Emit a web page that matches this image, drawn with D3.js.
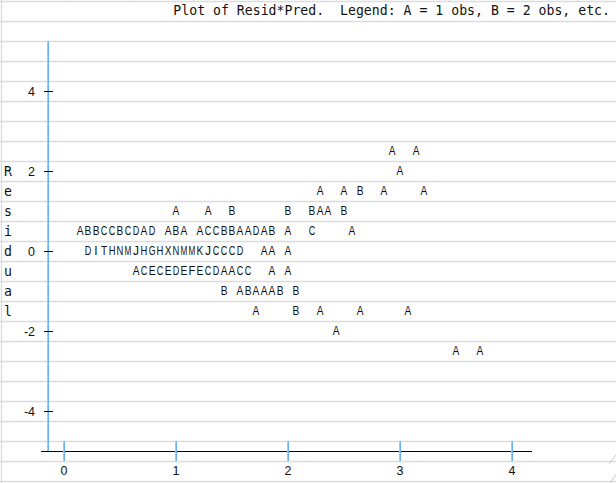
<!DOCTYPE html>
<html><head><meta charset="utf-8">
<script src="https://cdn.jsdelivr.net/npm/d3@7"></script>
<style>html,body{margin:0;padding:0;background:#fff;overflow:hidden}</style>
</head><body>
<svg id="c" width="616" height="483"></svg>
<script>
// ---- data ----
const title = "Plot of Resid*Pred.  Legend: A = 1 obs, B = 2 obs, etc.";
const yAxisLabel = "Residual";
const xTicks = [0, 1, 2, 3, 4];
const yTicks = [4, 2, 0, -2, -4];
const yTickLabels = ["4", "2", "0", "-2", "-4"];
// residual level of each printed row
const rowResid = [2.5, 2, 1.5, 1, 0.5, 0, -0.5, -1, -1.5, -2, -2.5];
// predicted values of the plotted symbols in each row
const rowPred = [
  [2.929, 3.143],
  [3.0],
  [2.286, 2.5, 2.643, 2.857, 3.214],
  [1.0, 1.286, 1.5, 2.0, 2.214, 2.286, 2.357, 2.5],
  [0.143, 0.214, 0.286, 0.357, 0.429, 0.5, 0.571, 0.643, 0.714, 0.786,
   0.929, 1.0, 1.071,
   1.214, 1.286, 1.357, 1.429, 1.5, 1.571, 1.643, 1.714, 1.786, 1.857,
   2.0, 2.214, 2.571],
  [0.214, 0.286, 0.357, 0.429, 0.5, 0.571, 0.643, 0.714, 0.786, 0.857,
   0.929, 1.0, 1.071, 1.143, 1.214, 1.286, 1.357, 1.429, 1.5, 1.571,
   1.786, 1.857, 2.0],
  [0.643, 0.714, 0.786, 0.857, 0.929, 1.0, 1.071, 1.143, 1.214, 1.286,
   1.357, 1.429, 1.5, 1.571, 1.643, 1.857, 2.0],
  [1.429, 1.571, 1.643, 1.714, 1.786, 1.857, 1.929, 2.071],
  [1.714, 2.071, 2.286, 2.643, 3.071],
  [2.429],
  [3.5, 3.714]
];
// number of observations at each symbol (A = 1, B = 2, ...)
const rowCount = [
  [1, 1],
  [1],
  [1, 1, 2, 1, 1],
  [1, 1, 2, 2, 2, 1, 1, 2],
  [1, 2, 2, 3, 3, 2, 3, 4, 1, 4,
   1, 2, 1,
   1, 3, 3, 2, 2, 1, 1, 4, 1, 2,
   1, 3, 1],
  [4, 9, 20, 8, 14, 13, 10, 8, 7, 8,
   24, 14, 13, 13, 11, 10, 3, 3, 3, 4,
   1, 1, 1],
  [1, 3, 5, 3, 5, 4, 5, 6, 5, 3,
   4, 1, 1, 3, 3, 1, 1],
  [2, 1, 2, 1, 1, 1, 2, 2],
  [1, 2, 1, 1, 1],
  [1],
  [1, 1]
];

// ---- drawing ----
const svg = d3.select("#c");
const W = 616, H = 483;
const x = d3.scaleLinear().domain([0, 4]).range([64, 512]);
const y = d3.scaleLinear().domain([-4, 4]).range([411, 91]);
const grid = "#dcdcdc", blue = "#66b3f2", fringe = "#f3b57a";
const sans = "'Liberation Sans', Arial, sans-serif";
const mono = "'DejaVu Sans Mono', monospace";

// sheet grid
const gh = d3.range(1, H + 1, 20);
svg.append("g").selectAll("line").data(gh).join("line")
  .attr("x1", 0).attr("x2", W).attr("y1", d => d + 0.5).attr("y2", d => d + 0.5)
  .attr("stroke", grid).attr("stroke-width", 1.3);
svg.append("line").attr("x1", 1.5).attr("x2", 1.5).attr("y1", 0).attr("y2", H)
  .attr("stroke", grid).attr("stroke-width", 1.3);
svg.append("g").selectAll("line").data(d3.range(65, W, 64)).join("line")
  .attr("x1", d => d + 0.5).attr("x2", d => d + 0.5).attr("y1", 0).attr("y2", 2)
  .attr("stroke", grid);

// title
svg.append("text").attr("x", 610).attr("y", 15).attr("text-anchor", "end")
  .style("white-space", "pre").attr("font-family", mono).attr("font-size", 13.2)
  .attr("fill", "#111").text(title);

// y axis
svg.append("line").attr("x1", 47.5).attr("x2", 47.5).attr("y1", 41).attr("y2", 451)
  .attr("stroke", fringe).attr("stroke-width", 1);
svg.append("line").attr("x1", 48.5).attr("x2", 48.5).attr("y1", 41).attr("y2", 451)
  .attr("stroke", blue).attr("stroke-width", 1);
const yt = svg.append("g");
yt.selectAll("line").data(yTicks).join("line")
  .attr("x1", 44).attr("x2", 53).attr("y1", d => Math.round(y(d)) + 0.5).attr("y2", d => Math.round(y(d)) + 0.5)
  .attr("stroke", "#000");
yt.selectAll("text").data(yTicks).join("text")
  .attr("x", 35).attr("y", d => y(d)).attr("dy", "0.36em").attr("text-anchor", "end")
  .attr("font-family", sans).attr("font-size", 12.5).attr("fill", "#111")
  .text((d, i) => yTickLabels[i]);

// y axis label, one character per row
svg.append("g").selectAll("text").data(yAxisLabel.split("")).join("text")
  .attr("x", 4).attr("y", (d, i) => y(2) + i * 20).attr("dy", "0.36em")
  .attr("font-family", mono).attr("font-size", 13.2).attr("fill", "#111").text(d => d);

// x axis
svg.append("line").attr("x1", 41).attr("x2", 532).attr("y1", 451.5).attr("y2", 451.5)
  .attr("stroke", "#000");
const xt = svg.append("g");
xt.selectAll("line.f").data(xTicks).join("line").attr("class", "f")
  .attr("x1", d => x(d) - 0.5).attr("x2", d => x(d) - 0.5).attr("y1", 441).attr("y2", 461)
  .attr("stroke", fringe);
xt.selectAll("line.b").data(xTicks).join("line").attr("class", "b")
  .attr("x1", d => x(d) + 0.5).attr("x2", d => x(d) + 0.5).attr("y1", 441).attr("y2", 461)
  .attr("stroke", blue);
xt.selectAll("text").data(xTicks).join("text")
  .attr("x", d => x(d)).attr("y", 475).attr("text-anchor", "middle")
  .attr("font-family", sans).attr("font-size", 12.5).attr("fill", "#111").text(d => d);

// plotted symbols (each sits in one 8px print column)
const pts = [];
rowResid.forEach((r, i) => rowPred[i].forEach((p, j) =>
  pts.push({ pred: p, resid: r, n: rowCount[i][j] })));
const cell = (x(1) - x(0)) / 14;
svg.append("g").selectAll("text").data(pts).join("text")
  .attr("transform", d => `translate(${x(d.pred)},${y(d.resid)})`)
  .attr("dy", "0.36em")
  .attr("text-anchor", "middle").attr("font-family", sans).attr("font-size", 12)
  .attr("fill", "#111")
  .text(d => String.fromCharCode(64 + d.n))
  .each(function (d) {
    const w = this.getBBox().width;
    const maxW = cell - 1.2;
    if (w > maxW) {
      d3.select(this).attr("transform",
        `translate(${x(d.pred)},${y(d.resid)}) scale(${maxW / w},1)`);
    }
  });

// resize grip marks
svg.append("g").selectAll("line").data([455, 475]).join("line")
  .attr("x1", 609).attr("y1", d => d + 9).attr("x2", 616).attr("y2", d => d)
  .attr("stroke", "#c8c8c8");
</script>
</body></html>
